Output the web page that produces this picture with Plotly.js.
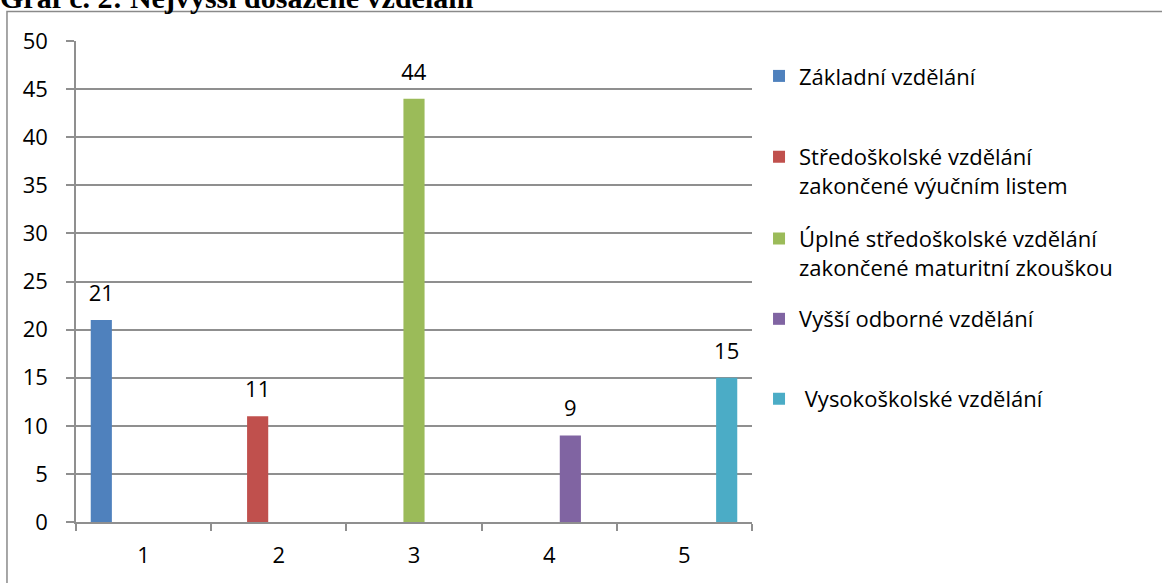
<!DOCTYPE html>
<html>
<head>
<meta charset="utf-8">
<script src="https://cdn.plot.ly/plotly-3.0.1.min.js"></script>
<style>
  html, body { margin: 0; padding: 0; background: #fff; }
  #chart { width: 1162px; height: 583px; }
</style>
</head>
<body>
<div id="chart"></div>
<script>
// ---- data ----
const categories = ['1', '2', '3', '4', '5'];
const seriesNames = [
  'Základní vzdělání',
  'Středoškolské vzdělání<br>zakončené výučním listem',
  'Úplné středoškolské vzdělání<br>zakončené maturitní zkouškou',
  'Vyšší odborné vzdělání',
  '\u00a0Vysokoškolské vzdělání'
];
const zakladni      = [21, null, null, null, null];
const stredoskolske = [null, 11, null, null, null];
const uplneStredni  = [null, null, 44, null, null];
const vyssiOdborne  = [null, null, null, 9, null];
const vysokoskolske = [null, null, null, null, 15];
const seriesValues = [zakladni, stredoskolske, uplneStredni, vyssiOdborne, vysokoskolske];
const yTicks = [0, 5, 10, 15, 20, 25, 30, 35, 40, 45, 50];
const chartTitle = 'Graf č. 2: Nejvyšší dosažené vzdělání';

// ---- styles ----
const colors = ['#4F81BD', '#C0504D', '#9BBB59', '#8064A2', '#4BACC6'];
const FONT = '"Open Sans", "Noto Sans", sans-serif';
const FS = 22;
const GRID = '#8f8f8f';
const BARGAP = 0.218;
// legend vertical anchors (paper fraction)
const legendY = [0.927, 0.729, 0.5586, 0.422, 0.256];
const legendX = 1.0104;

const traces = [];
const legendLayouts = {};
seriesValues.forEach((vals, i) => {
  const lname = i === 0 ? 'legend' : 'legend' + (i + 1);
  traces.push({
    type: 'bar',
    name: seriesNames[i],
    x: categories,
    y: vals,
    marker: { color: colors[i] },
    text: vals.map(v => v == null ? '' : String(v)),
    // small invisible second line lifts the value label a little above the bar
    texttemplate: '<span style="font-size:' + FS + 'px">%{text}</span><br>\u00a0',
    textposition: 'outside',
    constraintext: 'none',
    textfont: { family: FONT, size: 10, color: '#000' },
    cliponaxis: false,
    legend: lname,
    hoverinfo: 'skip'
  });
  legendLayouts[lname] = {
    x: legendX, xanchor: 'left',
    y: legendY[i], yanchor: 'middle',
    valign: 'top',
    bgcolor: 'rgba(0,0,0,0)',
    font: { family: FONT, size: FS, color: '#000' }
  };
});

const layout = Object.assign({
  width: 1162,
  height: 583,
  margin: { l: 76, r: 410, t: 41, b: 61 },
  paper_bgcolor: '#fff',
  plot_bgcolor: '#fff',
  barmode: 'group',
  bargap: BARGAP,
  bargroupgap: 0,
  showlegend: true,
  font: { family: FONT, size: FS, color: '#000' },
  xaxis: {
    type: 'category',
    categoryarray: categories,
    tickson: 'boundaries',
    ticks: 'outside',
    ticklen: 7,
    tickwidth: 1.5,
    tickcolor: GRID,
    showline: true,
    linecolor: GRID,
    linewidth: 1.5,
    showgrid: false,
    zeroline: false,
    ticklabelstandoff: 13,
    tickfont: { family: FONT, size: FS, color: '#000' },
    fixedrange: true
  },
  yaxis: {
    range: [0, 50],
    tickvals: yTicks,
    ticks: 'outside',
    ticklen: 8,
    tickwidth: 1.5,
    tickcolor: GRID,
    showline: true,
    linecolor: GRID,
    linewidth: 1.5,
    showgrid: true,
    gridcolor: GRID,
    gridwidth: 1.5,
    zeroline: false,
    ticklabelstandoff: 14,
    tickfont: { family: FONT, size: FS, color: '#000' },
    fixedrange: true
  },
  annotations: [{
    text: '<b>' + chartTitle + '</b>',
    xref: 'paper', yref: 'paper',
    x: -0.1154, xanchor: 'left',
    y: 1.052, yanchor: 'bottom',
    showarrow: false,
    font: { family: '"Liberation Serif", "Times New Roman", serif', size: 30, color: '#000' }
  }],
  shapes: [{
    type: 'rect',
    xref: 'paper', yref: 'paper',
    x0: -0.1021, x1: 1.62,
    y0: -0.15, y1: 1.0613,
    line: { color: '#8a8a8a', width: 1.5 },
    fillcolor: 'rgba(0,0,0,0)',
    layer: 'below'
  }]
}, legendLayouts);

Plotly.newPlot('chart', traces, layout, { displayModeBar: false, responsive: false });
</script>
</body>
</html>
